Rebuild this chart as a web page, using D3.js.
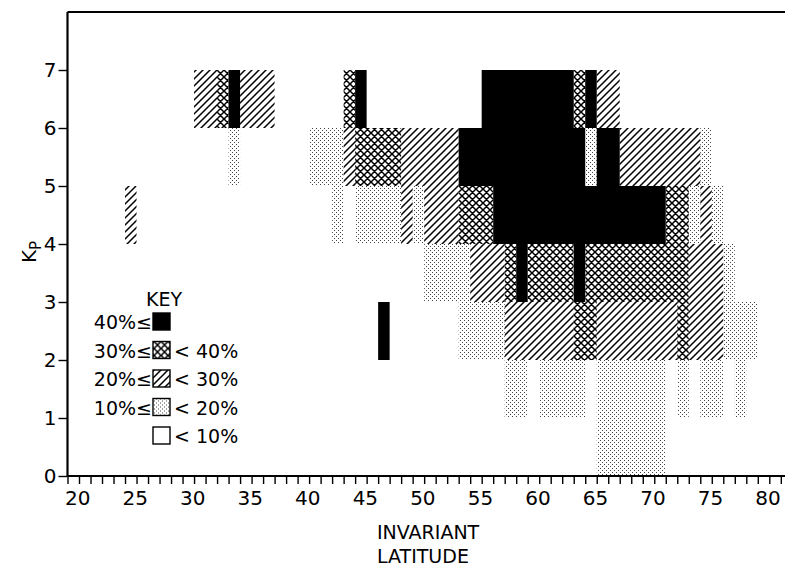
<!DOCTYPE html>
<html>
<head>
<meta charset="utf-8">
<script src="https://cdn.jsdelivr.net/npm/d3@7"></script>
<style>
  html, body { margin: 0; padding: 0; background: #fff; }
  svg { display: block; font-family: "DejaVu Sans", sans-serif; }
</style>
</head>
<body>
<svg id="chart" width="785" height="568"></svg>
<script>
// Occurrence level per 1° invariant-latitude bin and Kp band.
// Each run is [fromLatitude, toLatitude, level];
// level 1: 10–20 %, 2: 20–30 %, 3: 30–40 %, 4: ≥ 40 % (blank = < 10 %).
const kp0to1 = [[66, 72, 1]];
const kp1to2 = [[58, 60, 1], [61, 65, 1], [66, 72, 1], [73, 74, 1], [75, 77, 1], [78, 79, 1]];
const kp2to3 = [[47, 48, 4], [54, 58, 1], [58, 64, 2], [64, 66, 3], [66, 73, 2], [73, 74, 3],
                [74, 77, 2], [77, 80, 1]];
const kp3to4 = [[51, 55, 1], [55, 58, 2], [58, 59, 3], [59, 60, 4], [60, 64, 3], [64, 65, 4],
                [65, 74, 3], [74, 77, 2], [77, 78, 1]];
const kp4to5 = [[25, 26, 2], [43, 44, 1], [45, 49, 1], [49, 50, 2], [50, 51, 1], [51, 54, 2],
                [54, 57, 3], [57, 72, 4], [72, 74, 3], [74, 75, 1], [75, 76, 2], [76, 77, 1]];
const kp5to6 = [[34, 35, 1], [41, 44, 1], [44, 45, 2], [45, 49, 3], [49, 54, 2], [54, 65, 4],
                [65, 66, 1], [66, 68, 4], [68, 75, 2], [75, 76, 1]];
const kp6to7 = [[31, 33, 2], [33, 34, 3], [34, 35, 4], [35, 38, 2], [44, 45, 3], [45, 46, 4],
                [56, 64, 4], [64, 65, 3], [65, 66, 4], [66, 68, 2]];

const kpBands = [kp0to1, kp1to2, kp2to3, kp3to4, kp4to5, kp5to6, kp6to7];

// Axis ticks
const latMinorTicks = d3.range(20, 83);
const latLabelTicks = [20, 25, 30, 35, 40, 45, 50, 55, 60, 65, 70, 75, 80];
const kpTicks = [0, 1, 2, 3, 4, 5, 6, 7];

// Key
const keyLevels = [4, 3, 2, 1, 0];
const keyLower = ["40%≤", "30%≤", "20%≤", "10%≤", ""];
const keyUpper = ["", "< 40%", "< 30%", "< 20%", "< 10%"];

const svg = d3.select("#chart");

const x = d3.scaleLinear().domain([20, 80]).range([67.5, 757.8]);
const y = d3.scaleLinear().domain([0, 8]).range([476, 12]);

// Fill patterns
const defs = svg.append("defs");
const hatch = defs.append("pattern").attr("id", "lvl2")
  .attr("patternUnits", "userSpaceOnUse").attr("width", 7).attr("height", 7);
hatch.append("path").attr("d", "M-1,8 L8,-1 M-1,1 L1,-1 M6,8 L8,6")
  .attr("stroke", "#000").attr("stroke-width", 1.5).attr("fill", "none");

const cross = defs.append("pattern").attr("id", "lvl3")
  .attr("patternUnits", "userSpaceOnUse").attr("width", 7).attr("height", 7);
cross.append("path").attr("d", "M-1,8 L8,-1 M-1,1 L1,-1 M6,8 L8,6 M-1,-1 L8,8 M-1,6 L1,8 M6,-1 L8,1")
  .attr("stroke", "#000").attr("stroke-width", 1.5).attr("fill", "none");

const dots = defs.append("pattern").attr("id", "lvl1")
  .attr("patternUnits", "userSpaceOnUse").attr("width", 4).attr("height", 4);
dots.append("rect").attr("x", 0).attr("y", 0).attr("width", 1).attr("height", 1).attr("fill", "#444");
dots.append("rect").attr("x", 2).attr("y", 2).attr("width", 1).attr("height", 1).attr("fill", "#444");

const fillFor = lvl => lvl === 4 ? "#000" : lvl === 0 ? "#fff" : `url(#lvl${lvl})`;

// Cells
const cells = [];
kpBands.forEach((runs, kp) => runs.forEach(([a, b, lvl]) => cells.push({ kp, a, b, lvl })));

svg.append("g").selectAll("rect").data(cells).join("rect")
  .attr("x", d => x(d.a))
  .attr("width", d => x(d.b) - x(d.a))
  .attr("y", d => y(d.kp + 1))
  .attr("height", d => y(d.kp) - y(d.kp + 1))
  .attr("fill", d => fillFor(d.lvl));

// Frame: top line and axes
svg.append("line").attr("x1", x(20)).attr("x2", 785).attr("y1", y(8)).attr("y2", y(8))
  .attr("stroke", "#000").attr("stroke-width", 2);

const xAxis = svg.append("g").attr("transform", `translate(0,${y(0)})`)
  .call(d3.axisBottom(x).tickValues(latMinorTicks).tickSize(8).tickSizeOuter(0)
    .tickFormat(d => latLabelTicks.includes(d) ? d : ""));
xAxis.select(".domain").remove();
xAxis.append("line").attr("x1", x(20)).attr("x2", 785).attr("stroke", "#000").attr("stroke-width", 2.2);
xAxis.selectAll(".tick line").attr("stroke-width", 1.4);
xAxis.selectAll(".tick text")
  .attr("text-anchor", "start").attr("dx", -3).attr("y", 15)
  .attr("font-size", 20).attr("font-family", "DejaVu Sans").attr("fill", "#000");

const yAxis = svg.append("g").attr("transform", `translate(${x(20)},0)`)
  .call(d3.axisLeft(y).tickValues(kpTicks).tickSize(9).tickSizeOuter(0).tickFormat(d3.format("d")));
yAxis.select(".domain").remove();
yAxis.append("line").attr("y1", y(8)).attr("y2", y(0)).attr("stroke", "#000").attr("stroke-width", 2.2);
yAxis.selectAll(".tick line").attr("stroke-width", 1.4);
yAxis.selectAll(".tick text")
  .attr("x", -11).attr("font-size", 20).attr("font-family", "DejaVu Sans").attr("fill", "#000");

// Axis titles
const kpTitle = svg.append("text").attr("transform", "translate(36,252) rotate(-90)")
  .attr("text-anchor", "middle").attr("font-size", 20);
kpTitle.append("tspan").text("K");
kpTitle.append("tspan").attr("font-size", 15).attr("dy", 5).text("P");

svg.append("text").attr("x", 377).attr("y", 539).attr("font-size", 19).text("INVARIANT");
svg.append("text").attr("x", 377).attr("y", 563).attr("font-size", 19).text("LATITUDE");

// Key
const key = svg.append("g");
key.append("text").attr("x", 146).attr("y", 306).attr("font-size", 19).text("KEY");
const keyRow = key.selectAll("g.row").data(keyLevels).join("g").attr("class", "row")
  .attr("transform", (d, i) => `translate(0,${313 + i * 28.5})`);
keyRow.append("rect").attr("x", 153).attr("y", 0).attr("width", 17).attr("height", 17)
  .attr("fill", d => fillFor(d)).attr("stroke", "#000").attr("stroke-width", 1.4);
keyRow.append("text").attr("x", 152).attr("y", 16).attr("text-anchor", "end")
  .attr("font-size", 19).text((d, i) => keyLower[i]);
keyRow.append("text").attr("x", 174).attr("y", 16)
  .attr("font-size", 19).text((d, i) => keyUpper[i]);
</script>
</body>
</html>
